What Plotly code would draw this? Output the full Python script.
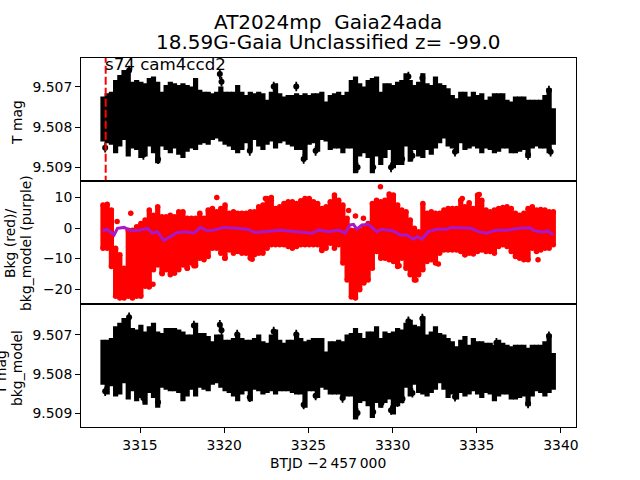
import plotly.graph_objects as go

# ---- data ----
t_grid = [3312.8, 3313.05, 3313.3, 3313.55, 3313.8, 3314.05, 3314.3, 3314.55, 3314.8, 3315.05,
          3315.3, 3315.55, 3315.8, 3316.05, 3316.3, 3316.55, 3316.8, 3317.05, 3317.3, 3317.55,
          3317.8, 3318.05, 3318.3, 3318.55, 3318.8, 3319.05, 3319.3, 3319.55, 3319.8, 3320.05,
          3320.3, 3320.55, 3320.8, 3321.05, 3321.3, 3321.55, 3321.8, 3322.05, 3322.3, 3322.55,
          3322.8, 3323.05, 3323.3, 3323.55, 3323.8, 3324.05, 3324.3, 3324.55, 3324.8, 3325.05,
          3325.3, 3325.55, 3325.8, 3326.05, 3326.3, 3326.55, 3326.8, 3327.05, 3327.3, 3327.55,
          3327.8, 3328.05, 3328.3, 3328.55, 3328.8, 3329.05, 3329.3, 3329.55, 3329.8, 3330.05,
          3330.3, 3330.55, 3330.8, 3331.05, 3331.3, 3331.55, 3331.8, 3332.05, 3332.3, 3332.55,
          3332.8, 3333.05, 3333.3, 3333.55, 3333.8, 3334.05, 3334.3, 3334.55, 3334.8, 3335.05,
          3335.3, 3335.55, 3335.8, 3336.05, 3336.3, 3336.55, 3336.8, 3337.05, 3337.3, 3337.55,
          3337.8, 3338.05, 3338.3, 3338.55, 3338.8, 3339.05, 3339.3, 3339.55]

# T mag envelope, millimag relative to 9.507
t_upper = [.24, .16, .12, -.17, -.30, -.42, -.42, -.13, -.17, -.13,
           -.09, -.22, -.26, -.13, .12, -.05, -.13, -.09, -.05, -.09,
           -.05, -.01, -.22, .07, .12, .12, .16, .12, -.01, .12,
           .12, .12, -.05, .12, .20, .12, .16, .12, .16, .32,
           .12, -.09, .16, .24, .20, .20, .16, .20, .16, .20,
           .16, .16, .12, .36, .20,
           .16, .12, .20, .12, -.17, -.26, -.09, -.01, -.17, -.22,
           -.26, .12, -.09, -.09, -.05, -.13, -.17, -.34, -.17, -.05,
           -.13, -.34, -.09, -.05, -.26, -.09, -.05, .03, .20, .28,
           .12, .12, .24, .12, .20, .16, .32, .24, .16, .16,
           .16, .32, .36, .24, .24, .24, .32, .32, .32, .32,
           .20, .03, .53]
t_lower = [1.36, 1.40, 1.44, 1.65, 1.48, 1.32, 1.73, 1.53, 1.57, 1.77,
           1.73, 1.48, 1.65, 1.90, 1.48, 1.57, 1.65, 1.53, 1.69, 1.77,
           1.61, 1.53, 1.57, 1.44, 1.40, 1.44, 1.32, 1.28, 1.36, 1.44,
           1.48, 1.57, 1.65, 1.57, 1.40, 1.57, 1.32, 1.48, 1.57, 1.44,
           1.36, 1.53, 1.40, 1.36, 1.44, 1.48, 1.57, 1.57, 1.82, 1.44,
           1.40, 1.61, 1.32, 1.36, 1.57,
           1.53, 1.53, 1.65, 1.53, 1.53, 2.15, 1.73, 1.65, 1.77, 2.15,
           1.73, 1.94, 1.77, 1.57, 2.02, 1.94, 1.94, 1.48, 1.86, 1.57,
           1.73, 1.77, 1.57, 1.69, 1.53, 1.40, 1.28, 1.48, 1.53, 1.65,
           1.40, 1.57, 1.53, 1.48, 1.53, 1.65, 1.53, 1.57, 1.65, 1.61,
           1.53, 1.53, 1.65, 1.65, 1.61, 1.57, 1.77, 1.53, 1.48, 1.53,
           1.53, 1.65, 1.44]
t_out_x = [3314.35, 3319.74, 3319.84, 3312.93, 3316.07, 3315.2, 3321.52, 3324.72, 3325.43, 3324.28, 3322.94,
           3327.92, 3328.85, 3329.91, 3330.25, 3330.57, 3331.18, 3333.71, 3338.05, 3339.39, 3339.29, 3331.77, 3330.94]
t_out_y = [-.41, -.32, -.13, 1.51, 1.80, 1.69, 1.59, 1.79, 1.59, -.01, -.01,
           2.0, 2.0, 2.0, 1.82, 1.79, 1.71, 1.61, 1.69, 1.61, .09, -.22, -.26]

# Background-corrected mag envelope, millimag relative to 9.507
m_upper = [.12, .12, .08, -.22, -.31, -.43, -.43, -.18, -.14, -.26,
           -.09, -.22, -.31, -.09, -.05, -.18, -.18, -.18, -.14, -.09,
           -.01, -.01, -.31, -.05, -.05, .03, .16, -.01, -.01, .12,
           .12, .08, -.05, .08, .12, .12, .08, -.01, .16, .20,
           -.01, -.14, .12, .20, .12, .12, -.05, .08, .16, .12,
           .08, .08, .08, .42, .16,
           .16, .12, .16, -.01, -.05, -.18, -.05, .08, -.09, -.09,
           -.22, .08, -.09, -.05, -.09, -.18, -.14, -.31, -.39, -.26,
           -.22, -.48, -.01, -.09, -.22, -.05, -.01, .08, .16, .29,
           .12, .03, .25, .08, .16, .16, .20, .20, .25, .12,
           .20, .25, .29, .25, .25, .25, .33, .25, .25, .25,
           .16, -.01, .46]
m_lower = [1.27, 1.52, 1.31, 1.57, 1.52, 1.23, 1.65, 1.44, 1.69, 1.61,
           1.78, 1.48, 1.61, 1.86, 1.35, 1.40, 1.44, 1.44, 1.48, 1.69,
           1.57, 1.40, 1.57, 1.35, 1.40, 1.44, 1.27, 1.23, 1.35, 1.44,
           1.48, 1.57, 1.69, 1.52, 1.44, 1.69, 1.40, 1.44, 1.52, 1.48,
           1.44, 1.52, 1.44, 1.44, 1.44, 1.48, 1.52, 1.52, 1.86, 1.44,
           1.44, 1.61, 1.35, 1.40, 1.52,
           1.52, 1.52, 1.65, 1.57, 1.57, 2.16, 1.74, 1.69, 1.82, 2.12,
           1.74, 1.86, 1.74, 1.65, 2.03, 1.82, 1.74, 1.35, 1.57, 1.27,
           1.48, 1.52, 1.57, 1.48, 1.40, 1.23, 1.40, 1.61, 1.52, 1.65,
           1.48, 1.57, 1.52, 1.44, 1.52, 1.61, 1.48, 1.52, 1.69, 1.57,
           1.52, 1.52, 1.65, 1.65, 1.61, 1.57, 1.82, 1.57, 1.44, 1.48,
           1.57, 1.48, 1.40]
m_out_x = [3314.35, 3314.05, 3318.2, 3319.74, 3319.84, 3312.93, 3316.07, 3315.2, 3321.52, 3324.72, 3325.43, 3324.28,
           3320.77, 3322.94, 3327.03, 3327.92, 3328.85, 3329.34, 3329.91, 3330.29, 3330.59, 3331.18, 3330.94, 3331.77,
           3333.71, 3338.05, 3339.29, 3336.17]
m_out_y = [-.45, -.22, -.24, -.26, -.12, 1.44, 1.72, 1.61, 1.59, 1.78, 1.55, -.01,
           -.01, -.09, 1.61, 1.99, 1.97, 1.74, 1.92, 1.72, 1.63, 1.48, -.35, -.42,
           1.58, 1.75, .03, .20]

# Background values
bkg_upper = [7.5, 7.8, 5.9, -6.6, -8.8, -13.2, -.7, -.7, .4, 1.5,
             2.6, 5.9, 4.2, 7, 3.7, 3.7, 4.2, 3.7, 5.3, 5.3,
             3.2, 3.2, 3.2, 4.8, 3.2, 5.9, 6.4, 5.3, 6.4, 7.5,
             4.8, 5.3, 4.8, 4.8, 4.8, 5.3, 5.3, 7, 7.5, 9.7,
             9.1, 6.4, 7, 8, 8.6, 8.6, 8, 8.9, 9.7, 9.7,
             8.6, 8, 6.4, 7, 8.6,
             10.8, 9.1, 7.5, 3.2, -.7, -.7, -.7, -.1, 1.5, 8,
             9.1, 8.6, 9.1, 11.1, 10.8, 7.5, 5.9, 5.3, 2.6, -.1,
             -1.2, 8, 4.8, 5.3, 4.8, 4.8, 5.9, 6.4, 6.4, 6.4,
             9.1, 7, 8.3, 6.4, 10.8, 9.1, 5.9, 5.3, 5.9, 6.4,
             6.7, 7, 6.4, 4.8, 4.2, 4.8, 6.4, 7, 5.9, 6.1,
             5.9, 5.3, 5.3]
bkg_lower = [-6.6, -6.6, -12.6, -22.4, -22.9, -22.9, -22.4, -22.9, -22.4, -22.4,
             -19.1, -19.1, -13.7, -12.1, -14.8, -13.7, -15.3, -14.8, -13.7, -12.1,
             -13.2, -11.5, -12.4, -9.9, -10.4, -9.3, -6.6, -6.6, -8.3, -9.9,
             -7.2, -8.3, -7.7, -8.3, -8.3, -9.9, -8.8, -8.3, -8.3, -6.6,
             -5.5, -5.5, -5.5, -5.5, -6.1, -6.6, -6.1, -5.5, -5.5, -5.5,
             -5.5, -5.5, -7.2, -6.6, -5,
             -6.6, -5.5, -11.5, -17, -22.6, -22.9, -20.2, -18, -17, -13.2,
             -7.7, -9.9, -9.9, -10.4, -11, -12.6, -9.9, -13.2, -15.3, -17,
             -15.3, -13.7, -11, -10.4, -11.5, -8.3, -7.2, -7.2, -7.2, -7.2,
             -7.7, -8.8, -8.3, -8.5, -7.7, -7.2, -7.7, -7.7, -8.3, -6.1,
             -5.5, -6.1, -7.7, -9.3, -9.9, -10.4, -10.4, -6.6, -7.7, -7.2,
             -6.6, -6.6, -5.5]
bkg_out_x = [3314.45, 3313.64, 3319.56, 3315.54, 3315.77, 3320.04, 3321.66, 3317.81, 3318.2, 3316.32, 3322.45, 3322.8,
             3325.8, 3329.28, 3327.39, 3327.8, 3328.27, 3334.14, 3335.15, 3338.64, 3334.3, 3331.39, 3332.72, 3330.39]
bkg_out_y = [4.8, 2.1, 10, -19.3, -18.4, -9.9, -10.2, -13.2, -12.4, -15, 9.7, 10,
             -7.4, 13.5, 5.7, 3.9, 3.2, 9.7, 11, -10.4, -8.8, -17, -11.8, -12.4]

model_x = [3312.77, 3313.03, 3313.46, 3313.66, 3314.05, 3314.45, 3314.94, 3315.44, 3315.73, 3316.03, 3316.42,
           3316.82, 3317.21, 3317.81, 3318.2, 3318.6, 3318.99, 3319.39, 3319.98, 3320.77, 3321.36, 3321.85,
           3322.55, 3323.34, 3324.32, 3325.21, 3325.61, 3326.26, 3326.79, 3327.19, 3327.48, 3327.68, 3327.88,
           3328.18, 3328.57, 3329.06, 3329.36, 3330.05, 3330.45, 3330.84, 3331.24, 3331.47, 3331.73, 3332.13,
           3332.62, 3333.21, 3333.51, 3334.69, 3335.09, 3335.58, 3336.17, 3336.77, 3337.56, 3338.15, 3338.44,
           3338.94, 3339.23, 3339.53]
model_y = [-.9, -.4, -2.3, -.1, .2, -.9, -.7, -.1, -1.7, -1.2, -4.1,
           -2.8, -1.5, -1.2, -1.7, .2, -.9, -.7, .2, -.1, -.4, -1.5,
           -1.2, -.7, -1.2, -1.7, -.7, -1.2, -.7, -1.7, 1, 1.2, -.4,
           1, 1.2, -1.2, -.4, -1, -2.3, -2.3, -3.7, -2.8, -3.7, -1.2,
           -.4, -.4, .2, -.1, -1.2, -1.7, -.7, -.7, -.1, .1, -.9,
           -1.4, -.9, -2.3]

MAG_BASE = 9.507
sector_x = [3312.96, 3312.96]
sector_y = [9.5062, 9.5094]
title_lines = ["AT2024mp  Gaia24ada", "18.59G-Gaia Unclassified z= -99.0"]
sector_label = "s74 cam4ccd2"
x_ticks = [3315, 3320, 3325, 3330, 3335, 3340]
mag_ticks = [9.507, 9.508, 9.509]
bkg_ticks = [-20, -10, 0, 10]

# ---- helpers ----
W, H = 640, 480
W_EFF = 637.5
FONT = "DejaVu Sans"


def mag(v):
    return [MAG_BASE + a / 1000 for a in v]


def px(x):
    return x / W_EFF


def py(y):
    return 1 - y / H


def band(upper, lower, color, xaxis, yaxis, to_mag=True):
    u = mag(upper) if to_mag else upper
    l = mag(lower) if to_mag else lower
    mid = [(a + b) / 2 for a, b in zip(u, l)]
    half = [abs(a - b) / 2 for a, b in zip(u, l)]
    return go.Scatter(x=t_grid, y=mid, mode="markers", xaxis=xaxis, yaxis=yaxis,
                      marker=dict(size=1, color=color),
                      error_y=dict(type="data", array=half, symmetric=True,
                                   color=color, thickness=5.2, width=0),
                      hoverinfo="skip")


def points(x, y, err, color, xaxis, yaxis, size):
    e = dict(type="data", array=[err] * len(x), color=color, thickness=1.8, width=0) if err else None
    return go.Scatter(x=x, y=y, mode="markers", xaxis=xaxis, yaxis=yaxis,
                      marker=dict(size=size, color=color, line=dict(width=0)), error_y=e,
                      hoverinfo="skip")


fig = go.Figure()
fig.add_trace(band(t_upper, t_lower, "black", "x", "y"))
fig.add_trace(points(t_out_x, mag(t_out_y), 0.00012, "black", "x", "y", 6))
fig.add_trace(go.Scatter(x=sector_x, y=sector_y, mode="lines", xaxis="x", yaxis="y",
                         line=dict(color="red", width=2, dash="8px,3px")))

fig.add_trace(band(bkg_upper, bkg_lower, "red", "x2", "y2", to_mag=False))
fig.add_trace(points(t_grid, bkg_upper, 0, "red", "x2", "y2", 5.5))
fig.add_trace(points(t_grid, bkg_lower, 0, "red", "x2", "y2", 5.5))
fig.add_trace(points(bkg_out_x, bkg_out_y, 0, "red", "x2", "y2", 5.5))
fig.add_trace(go.Scatter(x=model_x, y=model_y, mode="lines", xaxis="x2", yaxis="y2",
                         line=dict(color="#a818c8", width=3)))

fig.add_trace(band(m_upper, m_lower, "black", "x3", "y3"))
fig.add_trace(points(m_out_x, mag(m_out_y), 0.00012, "black", "x3", "y3", 6))

common_x = dict(range=[3311.49, 3340.87], showgrid=False, zeroline=False, showline=True, mirror=True,
                linecolor="black", linewidth=1, tickmode="array", tickvals=x_ticks)
common_y = dict(showgrid=False, zeroline=False, showline=True, mirror=True, linecolor="black", linewidth=1,
                ticks="outside", ticklen=4.9, tickwidth=1, tickcolor="black",
                tickfont=dict(family=FONT, size=13.9, color="black"))
dom_x = [px(81), px(576)]

ann = []


def text(x, y, s, size, angle=0, anchor="center"):
    ann.append(dict(x=px(x), y=py(y), xref="paper", yref="paper", text=s, showarrow=False, textangle=angle,
                    xanchor=anchor, yanchor="middle", font=dict(family=FONT, size=size, color="black")))


text(328, 21.5, title_lines[0], 20)
text(328, 42.5, title_lines[1], 20)
text(103.5, 65, sector_label, 16.67, anchor="left")
text(17, 122, "T mag", 13.9, angle=-90)
text(10, 243, "Bkg (red)/", 13.9, angle=-90)
text(26, 243, "bkg_model (purple)", 13.9, angle=-90)
text(1, 372, "T mag", 13.9, angle=-90)
text(17, 368, "bkg_model", 13.9, angle=-90)
text(328, 463, "BTJD \u22122\u2009457\u2009000", 13.9)

fig.update_layout(
    width=W, height=H, margin=dict(l=0, r=0, t=0, b=0, pad=0), showlegend=False, autosize=False,
    paper_bgcolor="white", plot_bgcolor="white", annotations=ann,
    xaxis=dict(common_x, domain=dom_x, anchor="y", showticklabels=False, ticks=""),
    xaxis2=dict(common_x, domain=dom_x, anchor="y2", showticklabels=False, ticks=""),
    xaxis3=dict(common_x, domain=dom_x, anchor="y3", ticks="outside", ticklen=4.9, tickwidth=1, tickcolor="black",
                tickformat="d", tickfont=dict(family=FONT, size=13.9, color="black")),
    yaxis=dict(common_y, domain=[py(181), py(58)], anchor="x", range=[9.50934, 9.50628],
               tickmode="array", tickvals=mag_ticks, tickformat=".3f"),
    yaxis2=dict(common_y, domain=[py(304), py(181)], anchor="x2", range=[-24.9, 15.4],
                tickmode="array", tickvals=bkg_ticks),
    yaxis3=dict(common_y, domain=[py(427), py(304)], anchor="x3", range=[9.50935, 9.50621],
                tickmode="array", tickvals=mag_ticks, tickformat=".3f"),
)

fig.write_html("out.html", config=dict(displayModeBar=False, responsive=False),
               post_script="document.body.style.margin='0';document.body.style.overflow='hidden';")
